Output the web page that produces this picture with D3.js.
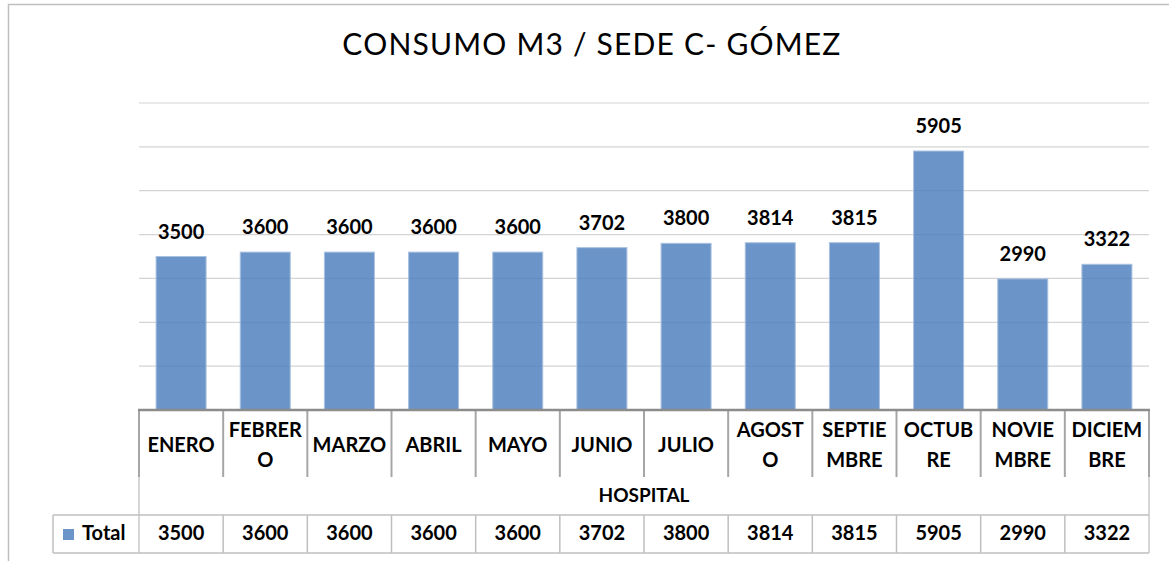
<!DOCTYPE html>
<html>
<head>
<meta charset="utf-8">
<script src="https://cdn.jsdelivr.net/npm/d3@7"></script>
<style>
  body { margin: 0; background: #fff; }
  text { font-family: Lato, "Open Sans", sans-serif; fill: #000; }
</style>
</head>
<body>
<div id="chart"></div>
<script>
// Data
const months = ["ENERO", "FEBRERO", "MARZO", "ABRIL", "MAYO", "JUNIO", "JULIO",
                "AGOSTO", "SEPTIEMBRE", "OCTUBRE", "NOVIEMBRE", "DICIEMBRE"];
// how the category labels wrap inside their cells
const monthLines = [["ENERO"], ["FEBRER", "O"], ["MARZO"], ["ABRIL"], ["MAYO"], ["JUNIO"], ["JULIO"],
                    ["AGOST", "O"], ["SEPTIE", "MBRE"], ["OCTUB", "RE"], ["NOVIE", "MBRE"], ["DICIEM", "BRE"]];
const totals = [3500, 3600, 3600, 3600, 3600, 3702, 3800, 3814, 3815, 5905, 2990, 3322];
const groupLabel = "HOSPITAL";
const seriesName = "Total";
const chartTitle = "CONSUMO M3 / SEDE C- GÓMEZ";

const W = 1169, H = 561;
const plot = {left: 139, right: 1149, top: 103, bottom: 410};

const svg = d3.select("#chart").append("svg")
    .attr("width", W)
    .attr("height", H);

// chart border (runs off the right / bottom of the picture)
svg.append("rect")
    .attr("x", 8.5).attr("y", 4.5)
    .attr("width", 1200).attr("height", 600)
    .attr("fill", "none")
    .attr("stroke", "#bfbfbf")
    .attr("stroke-width", 1.5);

svg.append("text")
    .attr("x", 592).attr("y", 55)
    .attr("text-anchor", "middle")
    .style("font-size", "30px")
    .style("letter-spacing", "1.2px")
    .text(chartTitle);

// Scales
let pad = 1 - 50 / ((plot.right - plot.left) / months.length);
let x = d3.scaleBand()
    .domain(months)
    .range([plot.left, plot.right])
    .paddingInner(pad)
    .paddingOuter(pad / 2);

let y = d3.scaleLinear()
    .domain([0, 7000])
    .range([plot.bottom, plot.top]);

// gridlines
svg.append("g")
    .selectAll("line")
    .data(y.ticks(7).filter(d => d > 0))
    .join("line")
    .attr("x1", plot.left).attr("x2", plot.right)
    .attr("y1", d => y(d)).attr("y2", d => y(d))
    .attr("stroke", "#d4d4d4")
    .attr("stroke-width", 1.2);

// bars (semi transparent, gridlines show through)
svg.append("g")
    .selectAll("rect")
    .data(totals)
    .join("rect")
    .attr("x", (d, i) => x(months[i]))
    .attr("y", d => y(d))
    .attr("width", x.bandwidth())
    .attr("height", d => y(0) - y(d))
    .attr("fill", "#4F81BD")
    .attr("fill-opacity", 0.84)
    .attr("stroke", "#a9c1e0")
    .attr("stroke-width", 1);

// data labels
svg.append("g")
    .selectAll("text")
    .data(totals)
    .join("text")
    .attr("x", (d, i) => x(months[i]) + x.bandwidth() / 2)
    .attr("y", d => y(d) - 18)
    .attr("text-anchor", "middle")
    .style("font-size", "20px")
    .style("font-weight", "bold")
    .text(d => d);

// ---- data table under the axis ----
let step = x.step();
let colLeft = m => x(m) - (step - x.bandwidth()) / 2;
let rowCat = {top: 410, bottom: 477};
let rowGroup = {top: 477, bottom: 515};
let rowTotal = {top: 515, bottom: 553};
let tableLeft = 53;

let table = svg.append("g");

// lighter table frame
table.append("line")
    .attr("x1", plot.left).attr("x2", plot.left)
    .attr("y1", rowCat.top).attr("y2", rowTotal.bottom)
    .attr("stroke", "#c8c8c8").attr("stroke-width", 1.5);
table.append("line")
    .attr("x1", plot.right).attr("x2", plot.right)
    .attr("y1", rowCat.top).attr("y2", rowTotal.bottom)
    .attr("stroke", "#c8c8c8").attr("stroke-width", 1.5);
table.append("line")
    .attr("x1", tableLeft).attr("x2", tableLeft)
    .attr("y1", rowTotal.top).attr("y2", rowTotal.bottom)
    .attr("stroke", "#bfbfbf").attr("stroke-width", 1.5);
[rowTotal.top, rowTotal.bottom].forEach(yy => {
    table.append("line")
        .attr("x1", tableLeft).attr("x2", plot.right)
        .attr("y1", yy).attr("y2", yy)
        .attr("stroke", "#bfbfbf").attr("stroke-width", 1.5);
});

// column dividers in category row and total row
table.selectAll("line.cat")
    .data(months.slice(1))
    .join("line")
    .classed("cat", true)
    .attr("x1", d => colLeft(d)).attr("x2", d => colLeft(d))
    .attr("y1", rowCat.top).attr("y2", rowCat.bottom)
    .attr("stroke", "#a6a6a6").attr("stroke-width", 2);
table.selectAll("line.tot")
    .data(months.slice(1))
    .join("line")
    .classed("tot", true)
    .attr("x1", d => colLeft(d)).attr("x2", d => colLeft(d))
    .attr("y1", rowTotal.top).attr("y2", rowTotal.bottom)
    .attr("stroke", "#bfbfbf").attr("stroke-width", 1.5);
// edges of category row a bit darker
table.append("line")
    .attr("x1", plot.left).attr("x2", plot.left)
    .attr("y1", rowCat.top).attr("y2", rowCat.bottom)
    .attr("stroke", "#a6a6a6").attr("stroke-width", 2);
table.append("line")
    .attr("x1", plot.right).attr("x2", plot.right)
    .attr("y1", rowCat.top).attr("y2", rowCat.bottom)
    .attr("stroke", "#a6a6a6").attr("stroke-width", 2);

// axis line
table.append("line")
    .attr("x1", plot.left - 1).attr("x2", plot.right + 1)
    .attr("y1", plot.bottom).attr("y2", plot.bottom)
    .attr("stroke", "#8c8c8c").attr("stroke-width", 2.5);

// category labels
let catLabels = table.selectAll("text.cat")
    .data(monthLines)
    .join("text")
    .classed("cat", true)
    .attr("text-anchor", "middle")
    .style("font-size", "20px")
    .style("font-weight", "bold");
catLabels.each(function (lines, i) {
    let cx = x(months[i]) + x.bandwidth() / 2;
    let first = lines.length == 1 ? 452 : 437;
    d3.select(this).selectAll("tspan")
        .data(lines)
        .join("tspan")
        .attr("x", cx)
        .attr("y", (l, j) => first + j * 30)
        .text(l => l);
});

// group label
table.append("text")
    .attr("x", (plot.left + plot.right) / 2)
    .attr("y", 502)
    .attr("text-anchor", "middle")
    .style("font-size", "19px")
    .style("font-weight", "bold")
    .text(groupLabel);

// total row values
table.selectAll("text.val")
    .data(totals)
    .join("text")
    .classed("val", true)
    .attr("x", (d, i) => x(months[i]) + x.bandwidth() / 2)
    .attr("y", 540)
    .attr("text-anchor", "middle")
    .style("font-size", "20px")
    .style("font-weight", "bold")
    .text(d => d);

// legend key + series name
table.append("rect")
    .attr("x", 63).attr("y", 529)
    .attr("width", 11).attr("height", 11)
    .attr("fill", "#4F81BD").attr("fill-opacity", 0.84);
table.append("text")
    .attr("x", 82).attr("y", 540)
    .style("font-size", "20px")
    .style("font-weight", "bold")
    .text(seriesName);
</script>
</body>
</html>
